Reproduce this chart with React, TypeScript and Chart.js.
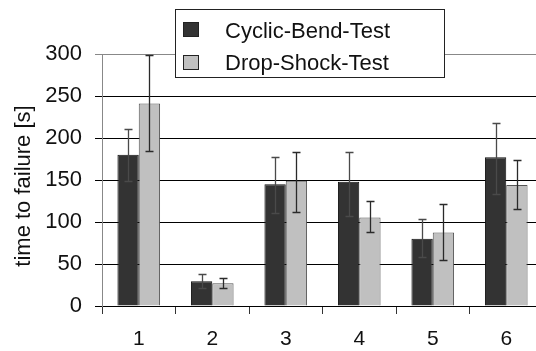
import React, { useEffect, useRef } from "react";
import { Chart, registerables } from "chart.js";

Chart.register(...registerables);

const categories = ["1", "2", "3", "4", "5", "6"];
const cyclicValues = [180, 29.5, 145, 148, 80, 177];
const cyclicErrHigh = [211, 38, 177, 183, 103.5, 218];
const cyclicErrLow = [149, 22, 111, 107, 58, 133];
const dropValues = [241, 27, 149, 105.5, 87.5, 144];
const dropErrHigh = [299, 33, 183, 125, 122, 174];
const dropErrLow = [184, 22, 112, 88, 54.5, 115.5];
const seriesNames = ["Cyclic-Bend-Test", "Drop-Shock-Test"];
const yTicks = [0, 50, 100, 150, 200, 250, 300];
const yTitle = "time to failure [s]";

const FONT = "'Liberation Sans', Arial, sans-serif";

const errorBarPlugin = {
  id: "errorBars",
  afterDatasetsDraw(chart: any) {
    const ctx = chart.ctx;
    const y = chart.scales.y;
    const lows = [cyclicErrLow, dropErrLow];
    const highs = [cyclicErrHigh, dropErrHigh];
    ctx.save();
    [0, 1].forEach((di) => {
      const meta = chart.getDatasetMeta(di);
      meta.data.forEach((bar: any, i: number) => {
        const x = Math.round(bar.x) + 0.5;
        const yh = Math.round(y.getPixelForValue(highs[di][i])) + 0.5;
        const yl = Math.round(y.getPixelForValue(lows[di][i])) + 0.5;
        ctx.strokeStyle = di === 0 ? "#4a4a4a" : "#2a2a2a";
        ctx.lineWidth = 1.3;
        ctx.beginPath();
        ctx.moveTo(x, yh);
        ctx.lineTo(x, yl);
        ctx.moveTo(x - 4, yh);
        ctx.lineTo(x + 4, yh);
        ctx.moveTo(x - 4, yl);
        ctx.lineTo(x + 4, yl);
        ctx.stroke();
      });
    });
    ctx.restore();
  },
};

const titlePlugin = {
  id: "yTitle",
  afterDraw(chart: any) {
    const ctx = chart.ctx;
    const area = chart.chartArea;
    ctx.save();
    ctx.translate(24, (area.top + area.bottom) / 2 + 6);
    ctx.rotate(-Math.PI / 2);
    ctx.fillStyle = "#111";
    ctx.font = `22px ${FONT}`;
    ctx.textAlign = "center";
    ctx.textBaseline = "middle";
    ctx.fillText(yTitle, 0, 0);
    ctx.restore();
  },
};

const legendPlugin = {
  id: "customLegend",
  afterDraw(chart: any) {
    const ctx = chart.ctx;
    ctx.save();
    ctx.fillStyle = "#fff";
    ctx.fillRect(175, 9, 269, 69);
    ctx.strokeStyle = "#222";
    ctx.lineWidth = 1;
    ctx.strokeRect(175.5, 9.5, 269, 68);
    const colors = ["#333333", "#c0c0c0"];
    const boxTop = [22, 55];
    const baseline = [38, 70];
    seriesNames.forEach((name, i) => {
      ctx.fillStyle = colors[i];
      ctx.fillRect(183, boxTop[i], 15, 14);
      ctx.strokeStyle = "#222";
      ctx.strokeRect(183.5, boxTop[i] + 0.5, 15, 14);
      ctx.fillStyle = "#111";
      ctx.font = `22px ${FONT}`;
      ctx.textBaseline = "alphabetic";
      ctx.textAlign = "left";
      ctx.fillText(name, 225, baseline[i]);
    });
    ctx.restore();
  },
};

export default function App() {
  const ref = useRef<HTMLCanvasElement | null>(null);
  useEffect(() => {
    document.body.style.margin = "0";
    const chart = new Chart(ref.current as HTMLCanvasElement, {
      type: "bar",
      data: {
        labels: categories,
        datasets: [
          {
            label: seriesNames[0],
            data: cyclicValues,
            backgroundColor: "#333333",
            borderColor: "#111",
            borderWidth: 1,
            barPercentage: 1,
            categoryPercentage: 0.58,
          },
          {
            label: seriesNames[1],
            data: dropValues,
            backgroundColor: "#c0c0c0",
            borderColor: "#555",
            borderWidth: 1,
            barPercentage: 1,
            categoryPercentage: 0.58,
          },
        ],
      },
      options: {
        animation: false,
        responsive: false,
        layout: { padding: { top: 54, left: 0, right: 0, bottom: 0 } },
        plugins: { legend: { display: false }, tooltip: { enabled: false } },
        scales: {
          x: {
            grid: {
              offset: true,
              drawOnChartArea: false,
              drawTicks: true,
              tickLength: 8,
              color: "#333",
            },
            border: { color: "#000", width: 1 },
            ticks: {
              color: "#111",
              font: { family: FONT, size: 21 },
              padding: 13,
            },
            afterFit(scale: any) {
              scale.height = 45;
            },
          },
          y: {
            min: 0,
            max: 300,
            afterBuildTicks(scale: any) {
              scale.ticks = yTicks.map((v) => ({ value: v }));
            },
            grid: {
              color: (c: any) => (c.tick && c.tick.value === 300 ? "#888" : "#000"),
              tickLength: 7,
              lineWidth: 1,
            },
            border: { color: "#888", width: 1 },
            ticks: {
              color: "#111",
              font: { family: FONT, size: 22 },
              padding: 13,
            },
            afterFit(scale: any) {
              scale.width = 102;
            },
          },
        },
      },
      plugins: [errorBarPlugin, titlePlugin, legendPlugin],
    } as any);
    return () => chart.destroy();
  }, []);
  return (
    <div style={{ position: "absolute", left: 0, top: 0, width: 536, height: 351, overflow: "hidden" }}>
      <canvas ref={ref} width={543} height={351} style={{ width: 543, height: 351, display: "block" }} />
    </div>
  );
}
